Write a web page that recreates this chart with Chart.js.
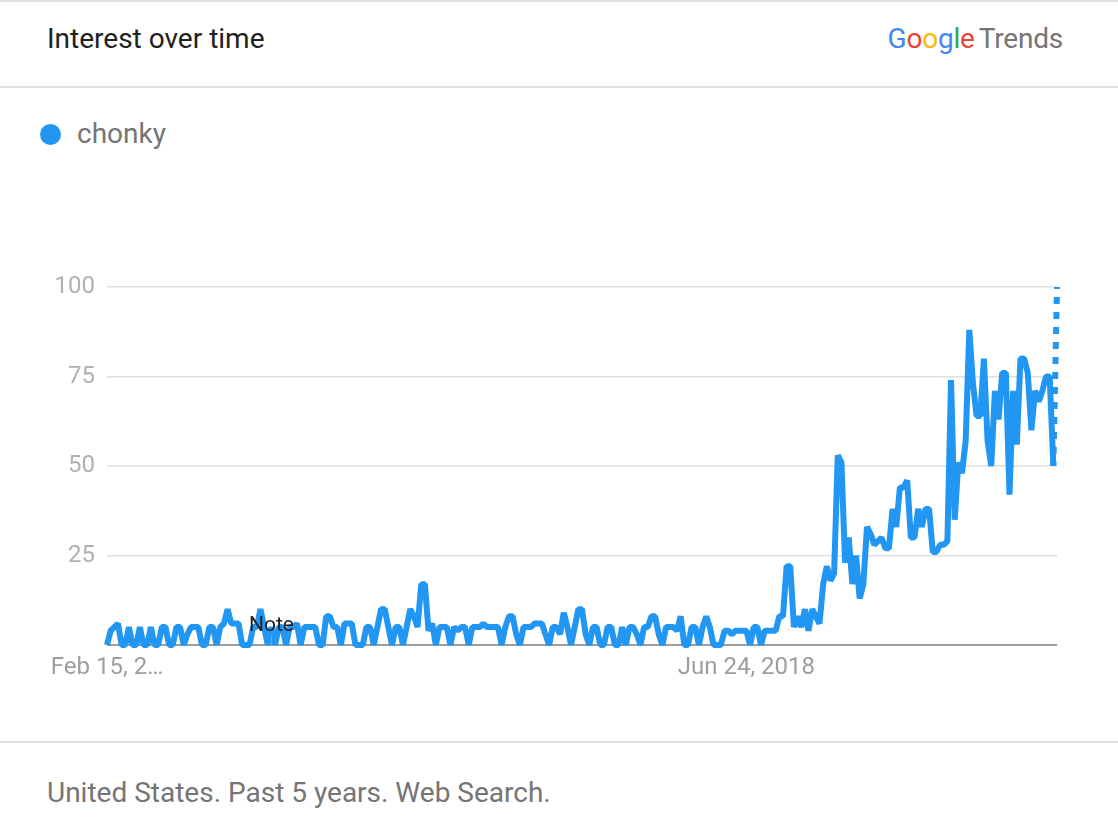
<!DOCTYPE html>
<html>
<head>
<meta charset="utf-8">
<script src="https://cdn.jsdelivr.net/npm/chart.js@4/dist/chart.umd.min.js"></script>
<style>
  html, body { margin: 0; padding: 0; background: #fff; width: 1118px; height: 822px; overflow: hidden; font-family: Roboto, "Noto Sans", sans-serif; }
  .abs { position: absolute; white-space: nowrap; }
  .rule { position: absolute; left: 0; width: 1118px; height: 2px; background: #e0e0e0; }
</style>
</head>
<body>
<div class="rule" style="top:0"></div>
<div class="abs" style="left:47px; top:22px; font-size:28px; line-height:34px; color:#212121;">Interest over time</div>
<div class="abs" style="right:55px; top:21px; font-size:28px; line-height:36px; letter-spacing:-0.2px;"><span style="color:#4285F4">G</span><span style="color:#EA4335">o</span><span style="color:#FBBC05">o</span><span style="color:#4285F4">g</span><span style="color:#34A853">l</span><span style="color:#EA4335">e</span><span style="color:#757575; margin-left:4px;">Trends</span></div>
<div class="rule" style="top:86px"></div>
<div class="abs" style="left:40px; top:124px; width:21px; height:21px; border-radius:50%; background:#2196F3;"></div>
<div class="abs" style="left:77px; top:116px; font-size:28px; line-height:36px; color:#757575;">chonky</div>
<div style="position:absolute; left:0; top:250px; width:1118px; height:450px;"><canvas id="c"></canvas></div>
<div class="rule" style="top:741px"></div>
<div class="abs" style="left:47px; top:776px; font-size:28px; line-height:34px; color:#757575;">United States. Past 5 years. Web Search.</div>
<script>
const seriesName = "chonky";
const startDate = "2015-02-15";
const values = [
  0,4,5,6,0,0,5,0,0,5,
  0,0,5,0,0,5,5,0,0,5,
  5,0,3,5,5,5,0,0,5,5,
  0,5,6,10,6,6,6,0,0,0,
  5,5,10,5,0,5,0,5,5,0,
  5,5,6,0,5,5,5,5,0,0,
  8,8,5,5,0,6,6,6,0,0,
  0,5,5,0,5,10,10,5,0,5,
  5,0,5,10,8,5,17,17,4,6,
  0,5,5,5,0,5,4,5,5,0,
  5,5,5,6,5,5,5,5,0,5,
  8,8,3,0,5,5,5,6,6,6,
  3,0,5,5,3,9,5,0,5,10,
  10,3,0,5,5,0,0,5,5,0,
  0,5,0,5,5,3,0,5,5,8,
  8,3,0,5,5,5,4,8,0,0,
  5,5,0,5,8,5,0,0,0,4,
  4,3,4,4,4,4,0,5,5,0,
  4,4,4,4,8,8,22,22,5,8,
  5,10,4,10,8,6,17,22,18,20,
  53,51,23,30,17,25,13,17,33,31,
  28,29,30,27,27,38,33,44,44,46,
  30,30,38,33,38,38,26,26,28,28,
  29,74,35,51,48,57,88,73,64,64,
  80,57,50,71,63,76,76,42,71,56,
  80,80,76,60,71,68,71,75,75,50,
  100
];
const xTickIndices = [0, 175];
const xTickTexts = ["Feb 15, 2\u2026", "Jun 24, 2018"];
const yTicks = [25, 50, 75, 100];
const noteIndex = 45;
const noteText = "Note";

// weekly category labels
const categories = [];
{
  const d0 = new Date(startDate + "T00:00:00Z");
  for (let i = 0; i < values.length; i++) {
    const d = new Date(d0.getTime() + i * 7 * 86400000);
    categories.push(d.toISOString().slice(0, 10));
  }
}
const lastIdx = values.length - 1;
const blue = "#2196F3";

const notePlugin = {
  id: "note",
  afterDatasetsDraw(chart) {
    const xs = chart.scales.x, ys = chart.scales.y, ctx = chart.ctx;
    const x = xs.getPixelForValue(noteIndex);
    const yb = ys.getPixelForValue(0);
    ctx.save();
    ctx.strokeStyle = "#9e9e9e";
    ctx.lineWidth = 1;
    ctx.beginPath();
    ctx.moveTo(Math.round(x) + 0.5, yb);
    ctx.lineTo(Math.round(x) + 0.5, yb - 10);
    ctx.stroke();
    ctx.fillStyle = "#212121";
    ctx.font = "21px Roboto";
    ctx.textAlign = "center";
    ctx.textBaseline = "middle";
    ctx.fillText(noteText, x, ys.getPixelForValue(5.3));
    ctx.restore();
  }
};

new Chart(document.getElementById("c"), {
  type: "line",
  data: {
    labels: categories,
    datasets: [{
      label: seriesName,
      data: values,
      borderColor: blue,
      backgroundColor: blue,
      borderWidth: 6,
      borderJoinStyle: "bevel",
      pointRadius: 0,
      pointHoverRadius: 0,
      tension: 0,
      fill: false,
      clip: false,
      segment: {
        borderDash: ctx => ctx.p1DataIndex === lastIdx ? [7, 8] : undefined,
        borderDashOffset: ctx => ctx.p1DataIndex === lastIdx ? 3 : undefined
      }
    }]
  },
  options: {
    responsive: true,
    maintainAspectRatio: false,
    animation: false,
    events: [],
    layout: { padding: { top: 37, right: 61, left: 0, bottom: 0 } },
    plugins: { legend: { display: false }, tooltip: { enabled: false } },
    scales: {
      x: {
        type: "category",
        offset: false,
        grid: { display: false, drawTicks: false },
        border: { display: false },
        afterBuildTicks: s => { s.ticks = xTickIndices.map(v => ({ value: v })); },
        afterFit: s => { s.height = 55; },
        ticks: {
          autoSkip: false,
          minRotation: 0,
          maxRotation: 0,
          padding: 9,
          color: "#9e9e9e",
          font: { family: "Roboto", size: 24 },
          callback: v => { const k = xTickIndices.indexOf(v); return k >= 0 ? xTickTexts[k] : ""; }
        }
      },
      y: {
        min: 0,
        max: 100,
        afterBuildTicks: s => { s.ticks = [0].concat(yTicks).map(v => ({ value: v })); },
        afterFit: s => { s.width = 107; },
        border: { display: false },
        grid: {
          drawTicks: false,
          color: c => c.tick.value === 0 ? "#9e9e9e" : "#e0e0e0",
          lineWidth: c => c.tick.value === 0 ? 2 : 1.5
        },
        ticks: {
          padding: 12,
          color: "#b0b0b0",
          font: { family: "Roboto", size: 24 },
          callback: v => v === 0 ? "" : String(v)
        }
      }
    }
  },
  plugins: [notePlugin]
});
</script>
</body>
</html>
